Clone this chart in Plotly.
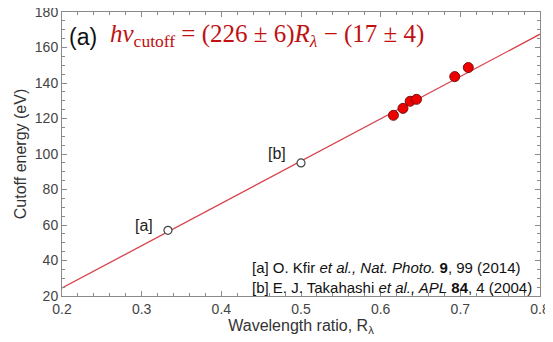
import plotly.graph_objects as go

# Data
this_work_x = [0.616, 0.628, 0.637, 0.645, 0.693, 0.710]
this_work_y = [121.8, 125.7, 129.7, 130.8, 143.6, 148.7]
ref_x = [0.333, 0.500]
ref_y = [57.0, 95.0]
ref_labels = ["[a]", "[b]"]
fit_x = [0.2, 0.8]
fit_y = [24.5, 167.5]
x_ticks = [0.2, 0.3, 0.4, 0.5, 0.6, 0.7, 0.8]
y_ticks = [20, 40, 60, 80, 100, 120, 140, 160, 180]

FONT = "Liberation Sans, Arial, sans-serif"

fig = go.Figure()
fig.add_trace(go.Scatter(x=fit_x, y=fit_y, mode="lines",
                         line=dict(color="#d8414a", width=1.3), showlegend=False))
fig.add_trace(go.Scatter(x=ref_x, y=ref_y, mode="markers",
                         marker=dict(size=8, color="white", line=dict(color="#444", width=1.2)),
                         showlegend=False))
fig.add_trace(go.Scatter(x=this_work_x, y=this_work_y, mode="markers",
                         marker=dict(size=10, color="#ee0000", line=dict(color="#7a1010", width=1)),
                         showlegend=False))

# point labels
offs = [(-0.030, 3.0), (-0.030, 5.5)]
for lx, ly, lab, (dx, dy) in zip(ref_x, ref_y, ref_labels, offs):
    fig.add_annotation(x=lx + dx, y=ly + dy, text=lab, showarrow=False,
                       font=dict(family=FONT, size=16, color="#222"))

fig.add_annotation(x=0.206, y=166, xanchor="left", text="(a)", showarrow=False,
                   font=dict(family=FONT, size=23, color="#111"))
fig.add_annotation(x=0.258, y=166.5, xanchor="left",
                   text="<i>hν</i><sub>cutoff</sub> = (226 ± 6)<i>R</i><sub><i>λ</i></sub> − (17 ± 4)",
                   showarrow=False,
                   font=dict(family="Liberation Serif, Times New Roman, serif", size=25, color="#c01010"))

fig.add_annotation(x=0.793, y=20, yshift=-2, xanchor="right", yanchor="bottom", align="left",
                   text="[a] O. Kfir <i>et al., Nat. Photo.</i> <b>9</b>, 99 (2014)<br>"
                        "[b] E. J. Takahashi <i>et al., APL</i> <b>84</b>, 4 (2004)",
                   showarrow=False,
                   font=dict(family=FONT, size=15, color="#111"))

axis_common = dict(showgrid=False, zeroline=False, showline=True, linecolor="#8a8a8a",
                   linewidth=1, mirror="allticks", ticks="inside", ticklen=5,
                   tickcolor="#8a8a8a", automargin=False, ticklabeloverflow="allow",
                   tickfont=dict(family=FONT, size=14, color="#444"))

fig.update_xaxes(range=[0.2, 0.8], tickvals=x_ticks,
                 ticktext=[f"{v:.1f}" for v in x_ticks],
                 minor=dict(dtick=0.02, ticks="inside", ticklen=3, tickcolor="#8a8a8a"),
                 title=dict(text="Wavelength ratio, R<sub>λ</sub>", standoff=2,
                            font=dict(family=FONT, size=16, color="#333")),
                 **axis_common)
fig.update_yaxes(range=[20, 180], tickvals=y_ticks,
                 minor=dict(dtick=5, ticks="inside", ticklen=3, tickcolor="#8a8a8a"),
                 title=dict(text="Cutoff energy (eV)", standoff=4,
                            font=dict(family=FONT, size=16, color="#333")),
                 **axis_common)

# page body has an 8px default margin, so the figure is sized to fill the rest of the window
fig.update_layout(width=545, height=334, margin=dict(l=54, r=13, t=4, b=46),
                  plot_bgcolor="white", paper_bgcolor="white", showlegend=False)

fig.write_html("out.html")
